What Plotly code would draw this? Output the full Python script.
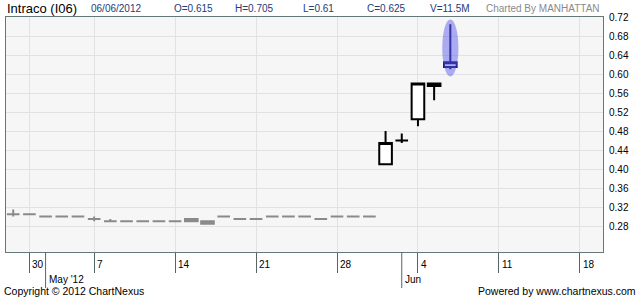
import plotly.graph_objects as go

# ---------------- data ----------------
ticker = "Intraco (I06)"
quote_date = "06/06/2012"
volume_txt = "11.5M"
charted_by = "Charted By MANHATTAN"

# trading-day calendar used by the x axis (SGX, May 1 holiday)
axis_days = [
    "2012-04-27", "2012-04-30", "2012-05-02", "2012-05-03", "2012-05-04",
    "2012-05-07", "2012-05-08", "2012-05-09", "2012-05-10", "2012-05-11",
    "2012-05-14", "2012-05-15", "2012-05-16", "2012-05-17", "2012-05-18",
    "2012-05-21", "2012-05-22", "2012-05-23", "2012-05-24", "2012-05-25",
    "2012-05-28", "2012-05-29", "2012-05-30", "2012-05-31", "2012-06-01",
    "2012-06-04", "2012-06-05", "2012-06-06", "2012-06-07", "2012-06-08",
    "2012-06-11", "2012-06-12", "2012-06-13", "2012-06-14", "2012-06-15",
    "2012-06-18", "2012-06-19", "2012-06-20",
]

# quiet period candles
old_dates = axis_days[0:23]
old_open  = [0.305, 0.305, 0.300, 0.300, 0.300, 0.295, 0.290, 0.290, 0.290, 0.290,
             0.290, 0.290, 0.285, 0.300, 0.295, 0.295, 0.300, 0.300, 0.300, 0.295,
             0.300, 0.300, 0.300]
old_high  = [0.315, 0.305, 0.300, 0.300, 0.300, 0.300, 0.295, 0.290, 0.290, 0.290,
             0.290, 0.295, 0.290, 0.300, 0.295, 0.295, 0.300, 0.300, 0.300, 0.295,
             0.300, 0.300, 0.300]
old_low   = [0.300, 0.305, 0.300, 0.300, 0.300, 0.290, 0.290, 0.290, 0.290, 0.290,
             0.290, 0.290, 0.285, 0.300, 0.295, 0.295, 0.300, 0.300, 0.300, 0.295,
             0.300, 0.300, 0.300]
old_close = [0.305, 0.305, 0.300, 0.300, 0.300, 0.295, 0.290, 0.290, 0.290, 0.290,
             0.290, 0.295, 0.290, 0.300, 0.295, 0.295, 0.300, 0.300, 0.300, 0.295,
             0.300, 0.300, 0.300]

# breakout candles
new_dates = ["2012-05-31", "2012-06-01", "2012-06-04", "2012-06-05"]
new_open  = [0.410, 0.460, 0.505, 0.575]
new_high  = [0.480, 0.475, 0.580, 0.580]
new_low   = [0.410, 0.455, 0.490, 0.545]
new_close = [0.455, 0.460, 0.580, 0.580]

# highlighted (latest) candle
last_date  = "2012-06-06"
last_open  = 0.615
last_high  = 0.705
last_low   = 0.61
last_close = 0.625

y_ticks = [0.28, 0.32, 0.36, 0.40, 0.44, 0.48, 0.52, 0.56, 0.60, 0.64, 0.68, 0.72]
week_ticks = ["2012-04-30", "2012-05-07", "2012-05-14", "2012-05-21",
              "2012-05-28", "2012-06-04", "2012-06-11", "2012-06-18"]
week_labels = ["30", "7", "14", "21", "28", "4", "11", "18"]
month_ticks = ["2012-05-02", "2012-06-01"]
month_labels = ["May '12", "Jun"]

# ---------------- layout geometry ----------------
W, H = 640, 297
ML, MR, MT, MB = 6, 37, 17, 45
PW, PH = W - ML - MR, H - MT - MB
FONT = "Liberation Sans, Arial, sans-serif"


def px_x(px):
    return (px - ML) / PW


def px_y(py):
    return (H - MB - py) / PH


fig = go.Figure()

fig.add_trace(go.Candlestick(
    x=old_dates, open=old_open, high=old_high, low=old_low, close=old_close,
    increasing=dict(line=dict(color="#8a8a8a", width=2), fillcolor="#8a8a8a"),
    decreasing=dict(line=dict(color="#8a8a8a", width=2), fillcolor="#8a8a8a"),
    whiskerwidth=0, showlegend=False, hoverinfo="skip",
))
fig.add_trace(go.Candlestick(
    x=new_dates, open=new_open, high=new_high, low=new_low, close=new_close,
    increasing=dict(line=dict(color="#000000", width=2), fillcolor="#ffffff"),
    decreasing=dict(line=dict(color="#000000", width=2), fillcolor="#000000"),
    whiskerwidth=0, showlegend=False, hoverinfo="skip",
))
fig.add_trace(go.Candlestick(
    x=[last_date], open=[last_open], high=[last_high], low=[last_low], close=[last_close],
    increasing=dict(line=dict(color="#1c1c70", width=2), fillcolor="#ffffff"),
    decreasing=dict(line=dict(color="#1c1c70", width=2), fillcolor="#ffffff"),
    whiskerwidth=0, showlegend=False, hoverinfo="skip",
))

# highlight ellipse around the latest candle
li = axis_days.index(last_date)
shapes = [dict(
    type="circle", xref="x", yref="y", layer="above",
    x0=li - 0.5, x1=li + 0.5, y0=last_low - 0.015, y1=last_high + 0.01,
    fillcolor="rgba(80,80,235,0.45)", line=dict(width=0),
)]

# month ticks (longer)
for d in month_ticks:
    shapes.append(dict(type="line", xref="x", yref="paper", x0=d, x1=d,
                       y0=0, y1=-36 / PH, line=dict(color="#556666", width=1)))

annotations = []
for d, t in zip(week_ticks, week_labels):
    annotations.append(dict(x=d, y=px_y(264), xref="x", yref="paper", text=t,
                            showarrow=False, xanchor="left", yanchor="middle",
                            xshift=1, font=dict(family=FONT, size=10, color="#000")))
for d, t in zip(month_ticks, month_labels):
    annotations.append(dict(x=d, y=px_y(279), xref="x", yref="paper", text=t,
                            showarrow=False, xanchor="left", yanchor="middle",
                            xshift=1, font=dict(family=FONT, size=10, color="#000")))

# header
hdr_color = "#223c78"
header = [
    (ticker, 5, 13, "#000000"),
    (quote_date, 89, 10, hdr_color),
    (f"O={last_open:g}", 172, 10, hdr_color),
    (f"H={last_high:g}", 233, 10, hdr_color),
    (f"L={last_low:g}", 301, 10, hdr_color),
    (f"C={last_close:g}", 365, 10, hdr_color),
    (f"V={volume_txt}", 428, 10, hdr_color),
    (charted_by, 484, 10, "#8a8a8a"),
]
for txt, x, s, c in header:
    annotations.append(dict(x=px_x(x), y=px_y(8), xref="paper", yref="paper", text=txt,
                            showarrow=False, xanchor="left", yanchor="middle",
                            font=dict(family=FONT, size=s, color=c)))

# footer
annotations.append(dict(x=px_x(2), y=px_y(291), xref="paper", yref="paper",
                        text="Copyright \u00a9 2012 ChartNexus", showarrow=False,
                        xanchor="left", yanchor="middle",
                        font=dict(family=FONT, size=10.5, color="#000")))
annotations.append(dict(x=px_x(638), y=px_y(291), xref="paper", yref="paper",
                        text="Powered by www.chartnexus.com", showarrow=False,
                        xanchor="right", yanchor="middle",
                        font=dict(family=FONT, size=10.5, color="#000")))

fig.update_layout(
    width=W, height=H,
    margin=dict(l=ML, r=MR, t=MT, b=MB, pad=0),
    paper_bgcolor="#ffffff", plot_bgcolor="#f6f6f6",
    boxgap=0.22, boxgroupgap=0,
    shapes=shapes, annotations=annotations,
    showlegend=False,
    xaxis=dict(
        type="category", categoryorder="array", categoryarray=axis_days,
        range=[-0.445, 36.43], rangeslider=dict(visible=False),
        tickmode="array", tickvals=week_ticks, ticktext=[""] * len(week_ticks),
        ticks="outside", ticklen=20, tickcolor="#556666", tickwidth=1,
        showgrid=True, gridcolor="#e2e2e2", gridwidth=1,
        showline=True, linecolor="#667777", linewidth=1, mirror=True,
        zeroline=False, fixedrange=True,
    ),
    yaxis=dict(
        side="right", range=[0.72 - PH / 475, 0.72],
        tickmode="array", tickvals=y_ticks,
        ticktext=[f"{v:.2f}" for v in y_ticks],
        ticks="", ticklabelstandoff=3,
        tickfont=dict(family=FONT, size=10, color="#000"),
        showgrid=True, gridcolor="#e2e2e2", gridwidth=1,
        showline=True, linecolor="#667777", linewidth=1, mirror=True,
        zeroline=False, fixedrange=True,
    ),
)

fig.write_html("out.html")
